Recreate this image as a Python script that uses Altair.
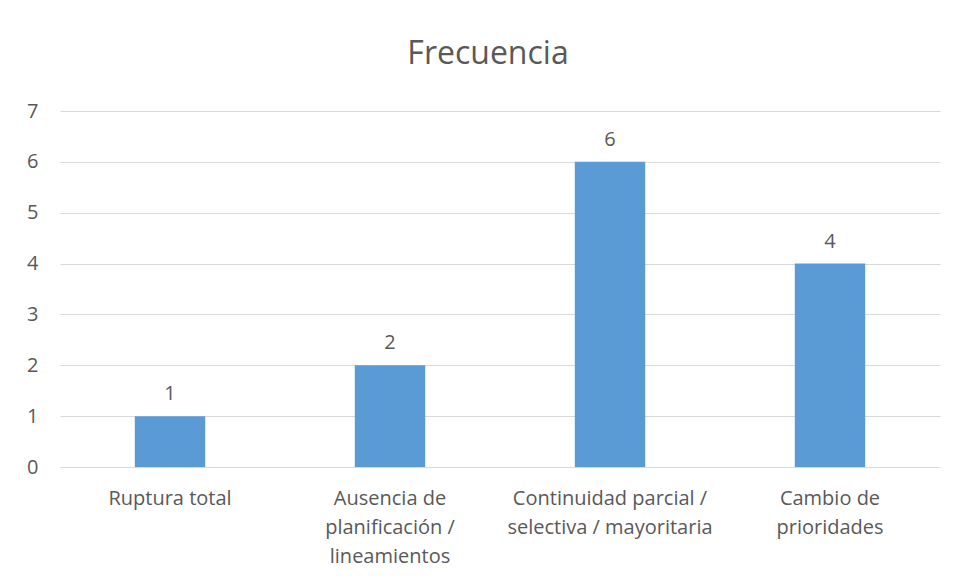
import altair as alt
import pandas as pd

categories = [
    "Ruptura total",
    "Ausencia de planificación / lineamientos",
    "Continuidad parcial / selectiva / mayoritaria",
    "Cambio de prioridades",
]
label_lines = [
    ["Ruptura total"],
    ["Ausencia de", "planificación /", "lineamientos"],
    ["Continuidad parcial /", "selectiva / mayoritaria"],
    ["Cambio de", "prioridades"],
]
values = [1, 2, 6, 4]
y_ticks = [0, 1, 2, 3, 4, 5, 6, 7]

df = pd.DataFrame({"cat": categories, "val": values})

parts = []
for c, lines in zip(categories, label_lines):
    arr = "[" + ",".join("'" + l + "'" for l in lines) + "]"
    parts.append(f"datum.value == '{c}' ? {arr}")
label_expr = " : ".join(parts) + " : datum.value"

FONT = "Open Sans"
GREY = "#595959"
FS = 20

x = alt.X(
    "cat:N",
    sort=categories,
    title=None,
    scale=alt.Scale(paddingInner=0.68, paddingOuter=0.34),
    axis=alt.Axis(
        labelExpr=label_expr,
        labelAngle=0,
        labelFont=FONT,
        labelFontSize=FS,
        labelColor=GREY,
        labelPadding=21,
        labelLineHeight=29,
        labelOverlap=False,
        labelBound=False,
        labelLimit=400,
        ticks=False,
        domainColor="#d9d9d9",
        domainWidth=1,
        grid=False,
    ),
)
y = alt.Y(
    "val:Q",
    title=None,
    scale=alt.Scale(domain=[0, 7], nice=False),
    axis=alt.Axis(
        values=y_ticks,
        labelFont=FONT,
        labelFontSize=FS,
        labelColor=GREY,
        labelPadding=22,
        labelOverlap=False,
        ticks=False,
        domain=False,
        gridColor="#d9d9d9",
        gridWidth=1,
    ),
)

base = alt.Chart(df).encode(x=x, y=y)
bars = base.mark_bar(color="#5b9bd5")
text = base.mark_text(
    baseline="bottom", dy=-12, font=FONT, fontSize=FS, color=GREY
).encode(text="val:Q")

chart = (
    alt.layer(bars, text)
    .properties(
        width=880,
        height=356,
        padding={"left": 52, "top": 103, "right": 2, "bottom": 104},
        autosize=alt.AutoSizeParams(type="none"),
        title=alt.TitleParams(
            "Frecuencia",
            font=FONT,
            fontSize=32,
            fontWeight="normal",
            color=GREY,
            offset=30,
            dx=-12,
        ),
        background="white",
    )
    .configure_view(stroke=None)
)

chart.save("out.html", embed_options={"renderer": "svg", "actions": False})
